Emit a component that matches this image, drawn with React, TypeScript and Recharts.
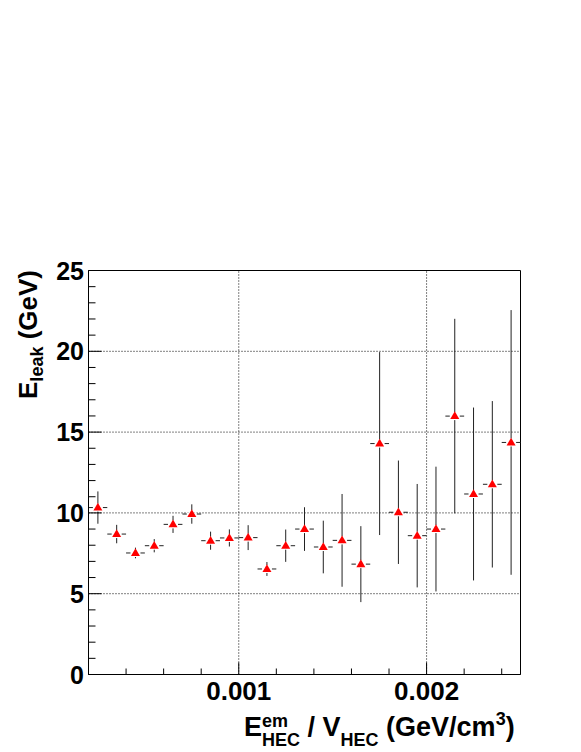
import { ComposedChart, Scatter, XAxis, YAxis, ErrorBar, ReferenceLine, ReferenceArea, Label } from 'recharts'

// bin centres of E_HEC^em / V_HEC (GeV/cm3)
const binCenters = [
  0.00025, 0.00035, 0.00045, 0.00055, 0.00065, 0.00075, 0.00085, 0.00095,
  0.00105, 0.00115, 0.00125, 0.00135, 0.00145, 0.00155, 0.00165, 0.00175,
  0.00185, 0.00195, 0.00205, 0.00215, 0.00225, 0.00235, 0.00245,
]
const binHalfWidth = 0.00005

// mean leaked energy (GeV) and its error
const eLeak = [
  10.33, 8.69, 7.52, 7.97, 9.29, 9.93, 8.28, 8.45,
  8.47, 6.53, 7.97, 9.0, 7.89, 8.3, 6.83, 14.29,
  10.04, 8.59, 9.0, 15.99, 11.17, 11.77, 14.36,
]
const eLeakErr = [
  1.0, 0.57, 0.33, 0.41, 0.53, 0.6, 0.56, 0.53,
  0.77, 0.43, 1.0, 1.35, 1.63, 2.87, 2.35, 5.66,
  3.2, 3.2, 3.86, 6.02, 5.35, 5.15, 8.19,
]

const xTicks = [
  0.0004, 0.0006, 0.0008, 0.001, 0.0012, 0.0014, 0.0016, 0.0018,
  0.002, 0.0022, 0.0024,
]
const xMajor = [0.001, 0.002]
const xMajorLabels = ['0.001', '0.002']
const yTicks = [
  0, 1, 2, 3, 4, 5, 6, 7, 8, 9, 10, 11, 12, 13, 14, 15, 16, 17, 18, 19, 20,
  21, 22, 23, 24, 25,
]
const yGrid = [5, 10, 15, 20]

const data = binCenters.map((x, i) => ({
  x,
  y: eLeak[i],
  yErr: eLeakErr[i],
  xErr: binHalfWidth,
}))

const FONT = '"Liberation Sans", Arial, Helvetica, sans-serif'

const Marker = (props: any) => {
  const { cx, cy } = props
  if (cx == null || cy == null) return null
  return (
    <g>
      <line x1={cx} x2={cx} y1={cy - 4} y2={cy + 4} stroke="#fff" strokeWidth={3} />
      <line x1={cx - 5} x2={cx + 5} y1={cy} y2={cy} stroke="#fff" strokeWidth={3} />
      <path d={`M${cx},${cy - 4.8}L${cx + 4.5},${cy + 3}L${cx - 4.5},${cy + 3}Z`} fill="#ff0000" />
    </g>
  )
}

const XTick = (props: any) => {
  const { x, y, payload } = props
  const idx = xMajor.findIndex((v) => Math.abs(v - payload.value) < 1e-9)
  const major = idx >= 0
  return (
    <g>
      <line x1={x} x2={x} y1={y} y2={y - (major ? 12 : 6)} stroke="#000" />
      {major && (
        <text x={x} y={y + 25} textAnchor="middle" fontSize={26} fontWeight="bold" fontFamily={FONT} fill="#000">
          {xMajorLabels[idx]}
        </text>
      )}
    </g>
  )
}

const YTick = (props: any) => {
  const { x, y, payload } = props
  const major = payload.value % 5 === 0
  return (
    <g>
      <line x1={x} x2={x + (major ? 13 : 7)} y1={y} y2={y} stroke="#000" />
      {major && (
        <text x={x - 4.5} y={y} dy="0.36em" textAnchor="end" fontSize={25} fontWeight="bold" fontFamily={FONT} fill="#000">
          {payload.value}
        </text>
      )}
    </g>
  )
}

const XTitle = () => (
  <text x={244} y={736} fontSize={27} fontFamily={FONT} fontWeight="bold" fill="#000">
    E
    <tspan fontSize={18} dy={-9}>em</tspan>
    <tspan fontSize={18} dx={-26} dy={19}>HEC</tspan>
    <tspan fontSize={27} dy={-10}>{' / V'}</tspan>
    <tspan fontSize={18} dy={10}>HEC</tspan>
    <tspan fontSize={27} dy={-10}>{' (GeV/cm'}</tspan>
    <tspan fontSize={18} dy={-11}>3</tspan>
    <tspan fontSize={27} dy={11}>)</tspan>
  </text>
)

const YTitle = () => (
  <text
    x={37}
    y={270}
    transform="rotate(-90, 37, 270)"
    textAnchor="end"
    fontFamily={FONT}
    fontWeight="bold"
    fontSize={26}
    fill="#000"
  >
    E
    <tspan fontSize={18} dy={6}>leak</tspan>
    <tspan fontSize={26} dy={-6}>{' (GeV)'}</tspan>
  </text>
)

export default function App() {
  return (
    <div style={{ position: 'absolute', left: 0, top: 0, width: 581, height: 752, background: '#fff' }}>
      <ComposedChart
        width={581}
        height={752}
        data={data}
        margin={{ top: 270.5, right: 60.5, bottom: 0, left: 0.5 }}
      >
        <XAxis
          type="number"
          dataKey="x"
          domain={[0.0002, 0.0025]}
          ticks={xTicks}
          interval={0}
          tick={<XTick />}
          tickLine={false}
          tickSize={0}
          tickMargin={0}
          height={77.5}
          axisLine={{ stroke: '#000' }}
        >
          <Label content={() => <XTitle />} />
        </XAxis>
        <YAxis
          type="number"
          dataKey="y"
          domain={[0, 25]}
          ticks={yTicks}
          interval={0}
          tick={<YTick />}
          tickLine={false}
          tickSize={0}
          tickMargin={0}
          width={88}
          axisLine={{ stroke: '#000' }}
        >
          <Label content={() => <YTitle />} />
        </YAxis>
        {yGrid.map((v) => (
          <ReferenceLine key={`gy${v}`} y={v} stroke="#000" strokeDasharray="1 2" />
        ))}
        {xMajor.map((v) => (
          <ReferenceLine key={`gx${v}`} x={v} stroke="#000" strokeDasharray="1 2" />
        ))}
        <ReferenceArea x1={0.0002} x2={0.0025} y1={0} y2={25} fill="none" stroke="#000" fillOpacity={0} />
        <Scatter dataKey="y" shape={<Marker />} isAnimationActive={false}>
          <ErrorBar dataKey="yErr" direction="y" width={0} stroke="#222" strokeWidth={1} />
          <ErrorBar dataKey="xErr" direction="x" width={0} stroke="#222" strokeWidth={1} />
        </Scatter>
      </ComposedChart>
    </div>
  )
}
